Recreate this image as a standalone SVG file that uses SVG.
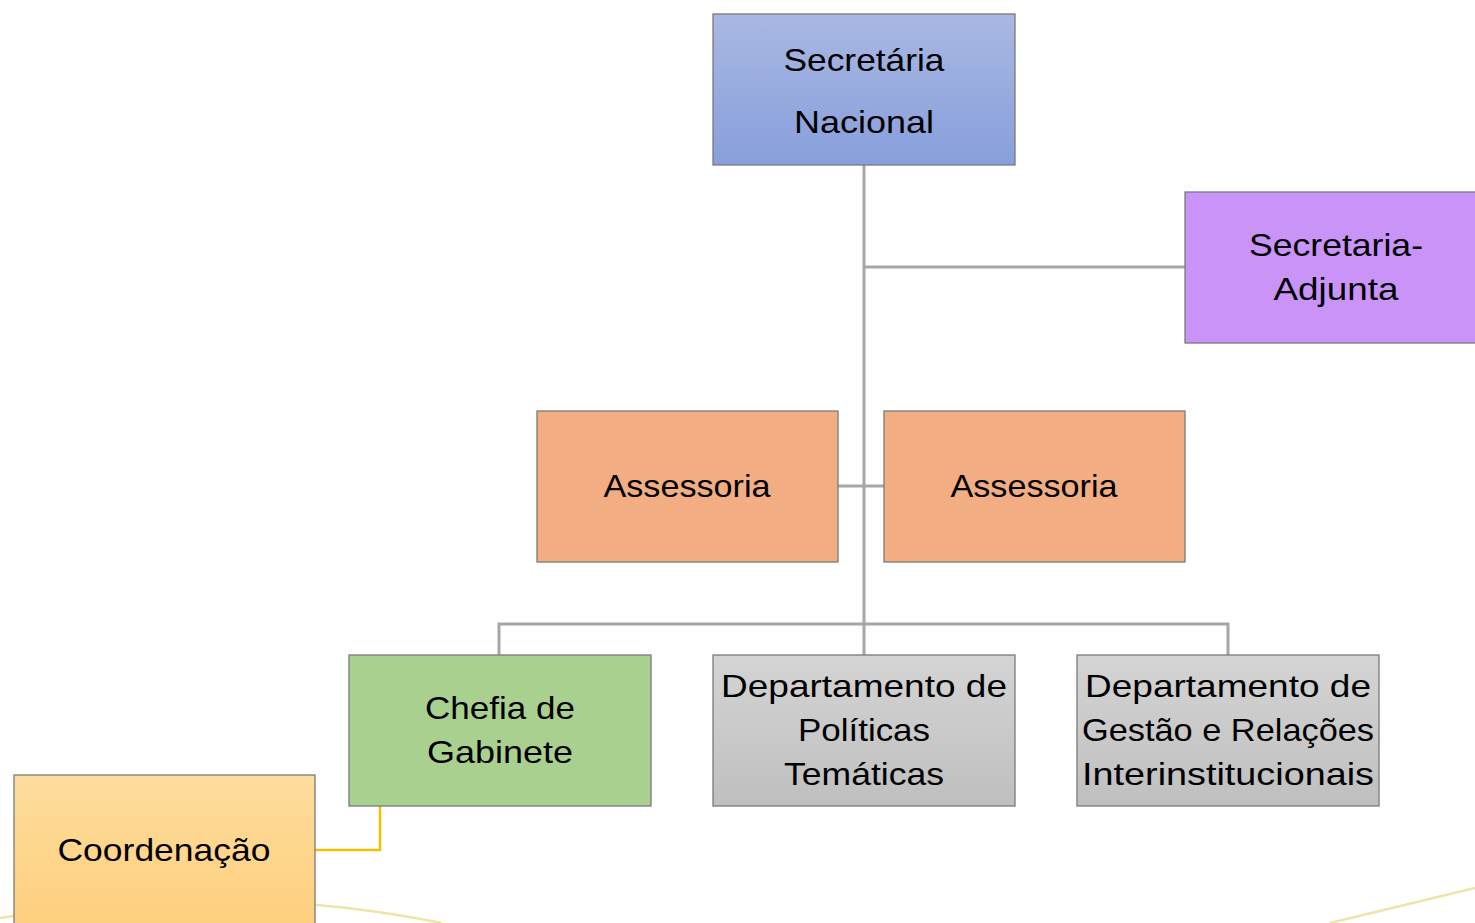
<svg xmlns="http://www.w3.org/2000/svg" width="1475" height="923" viewBox="0 0 1475 923">
<defs>
<linearGradient id="gBlue" x1="0" y1="0" x2="0" y2="1"><stop offset="0" stop-color="#a9b8e3"/><stop offset="1" stop-color="#889fdc"/></linearGradient>
<linearGradient id="gGray" x1="0" y1="0" x2="0" y2="1"><stop offset="0" stop-color="#d4d4d4"/><stop offset="1" stop-color="#bfbfbf"/></linearGradient>
<linearGradient id="gYel" x1="0" y1="0" x2="0" y2="1"><stop offset="0" stop-color="#fedc9c"/><stop offset="1" stop-color="#fdcf7c"/></linearGradient>
<style>
.box{stroke:#7a7a7a;stroke-width:1.3}
.t{font-family:"Liberation Sans",Arial,sans-serif;font-size:32px;fill:#000;text-anchor:middle}
.c{fill:none;stroke:#a6a6a6;stroke-width:3}
.cy{fill:none;stroke:#f5c000;stroke-width:2.5}
.deco{fill:none;stroke:#ece4a8;stroke-width:2.5}
</style>
</defs>
<rect width="1475" height="923" fill="#ffffff"/>
<g id="decor">
<path class="deco" d="M0 918 Q230 880 442 923"/>
<path class="deco" d="M1330 923 L1475 888"/>
</g>
<g id="connectors">
<path class="c" d="M864 165 V624"/>
<path class="c" d="M864 267 H1185"/>
<path class="c" d="M838 486 H884"/>
<path class="c" d="M499 655 V624 H1228 V655"/>
<path class="c" d="M864 624 V655"/>
<path class="cy" d="M380 806 V850 H315"/>
</g>
<g id="secretaria-nacional">
<rect class="box" x="713" y="14" width="302" height="151" fill="url(#gBlue)"/>
<text class="t" x="864" y="71" textLength="161" lengthAdjust="spacingAndGlyphs">Secretária</text>
<text class="t" x="864" y="133" textLength="140" lengthAdjust="spacingAndGlyphs">Nacional</text>
</g>
<g id="secretaria-adjunta">
<rect class="box" x="1185" y="192" width="300" height="151" fill="#c993f8"/>
<text class="t" x="1336" y="256" textLength="174" lengthAdjust="spacingAndGlyphs">Secretaria-</text>
<text class="t" x="1336" y="300" textLength="125" lengthAdjust="spacingAndGlyphs">Adjunta</text>
</g>
<g id="assessoria-1">
<rect class="box" x="537" y="411" width="301" height="151" fill="#f2ae82"/>
<text class="t" x="687" y="497" textLength="167" lengthAdjust="spacingAndGlyphs">Assessoria</text>
</g>
<g id="assessoria-2">
<rect class="box" x="884" y="411" width="301" height="151" fill="#f2ae82"/>
<text class="t" x="1034" y="497" textLength="167" lengthAdjust="spacingAndGlyphs">Assessoria</text>
</g>
<g id="chefia-gabinete">
<rect class="box" x="349" y="655" width="302" height="151" fill="#a9d08e"/>
<text class="t" x="500" y="719" textLength="150" lengthAdjust="spacingAndGlyphs">Chefia de</text>
<text class="t" x="500" y="763" textLength="146" lengthAdjust="spacingAndGlyphs">Gabinete</text>
</g>
<g id="dep-politicas">
<rect class="box" x="713" y="655" width="302" height="151" fill="url(#gGray)"/>
<text class="t" x="864" y="697" textLength="286" lengthAdjust="spacingAndGlyphs">Departamento de</text>
<text class="t" x="864" y="741" textLength="132" lengthAdjust="spacingAndGlyphs">Políticas</text>
<text class="t" x="864" y="785" textLength="160" lengthAdjust="spacingAndGlyphs">Temáticas</text>
</g>
<g id="dep-gestao">
<rect class="box" x="1077" y="655" width="302" height="151" fill="url(#gGray)"/>
<text class="t" x="1228" y="697" textLength="286" lengthAdjust="spacingAndGlyphs">Departamento de</text>
<text class="t" x="1228" y="741" textLength="292" lengthAdjust="spacingAndGlyphs">Gestão e Relações</text>
<text class="t" x="1228" y="785" textLength="292" lengthAdjust="spacingAndGlyphs">Interinstitucionais</text>
</g>
<g id="coordenacao">
<rect class="box" x="14" y="775" width="301" height="160" fill="url(#gYel)"/>
<text class="t" x="164" y="861" textLength="213" lengthAdjust="spacingAndGlyphs">Coordenação</text>
</g>
</svg>
